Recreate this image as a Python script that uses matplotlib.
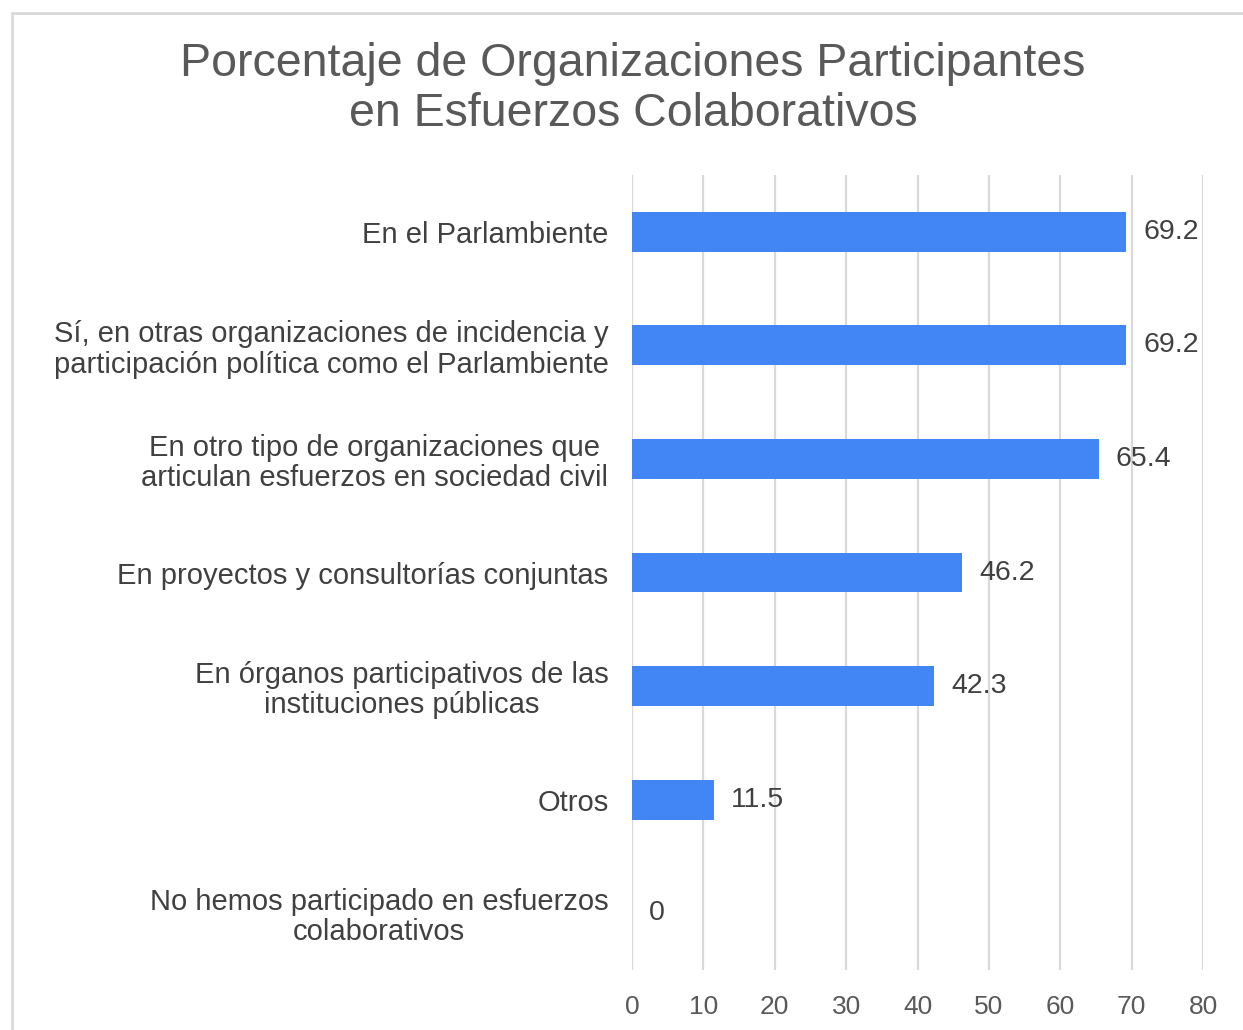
import matplotlib
matplotlib.use("Agg")
import matplotlib.pyplot as plt
from matplotlib.patches import Rectangle

categories = [
    "En el Parlambiente",
    "Sí, en otras organizaciones de incidencia y\nparticipación política como el Parlambiente",
    "En otro tipo de organizaciones que\narticulan esfuerzos en sociedad civil",
    "En proyectos y consultorías conjuntas",
    "En órganos participativos de las\ninstituciones públicas",
    "Otros",
    "No hemos participado en esfuerzos\ncolaborativos",
]
values = [69.2, 69.2, 65.4, 46.2, 42.3, 11.5, 0]
xticks = [0, 10, 20, 30, 40, 50, 60, 70, 80]
title = "Porcentaje de Organizaciones Participantes\nen Esfuerzos Colaborativos"

plt.rcParams['font.family'] = ['Liberation Sans', 'DejaVu Sans']

fig = plt.figure(figsize=(12.43, 10.30), dpi=100)
fig.patches.append(Rectangle((12/1243, -0.01), 1.2, 1 - 13/1030 + 0.01,
                             transform=fig.transFigure, fill=False,
                             edgecolor='#d9d9d9', linewidth=2))

ax = fig.add_axes([632/1243, 1 - 970/1030, (1203 - 632)/1243, (970 - 175)/1030])
ypos = list(range(len(categories)))
ax.barh(ypos, values, height=0.35, color='#4285F4', zorder=3)
for y, v in zip(ypos, values):
    ax.text(v + 2.4, y, f"{v:g}", va='center', ha='left', fontsize=20.5,
            color='#404040', zorder=4)

ax.set_xlim(0, 80)
ax.set_ylim(6.5, -0.5)
ax.set_xticks(xticks)
ax.set_xticklabels([str(t) for t in xticks])
ax.set_yticks(ypos)
ax.set_yticklabels(categories)
for lbl in ax.get_yticklabels():
    lbl.set_multialignment('center')
    lbl.set_linespacing(1.1)
ax.tick_params(axis='y', length=0, pad=17, labelsize=21, labelcolor='#404040')
ax.tick_params(axis='x', length=0, pad=18, labelsize=19, labelcolor='#595959')
ax.grid(axis='x', color='#d9d9d9', linewidth=1.6, zorder=0)
for s in ax.spines.values():
    s.set_visible(False)

fig.text(633/1243, 1 - 89/1030, title, ha='center', va='center', fontsize=33.5,
         color='#595959', linespacing=1.2)

fig.savefig('out.png', dpi=100)
